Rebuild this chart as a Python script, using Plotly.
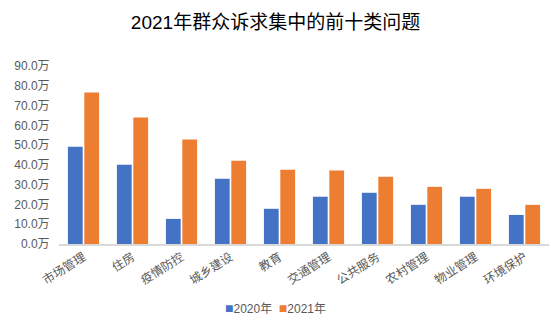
import plotly.graph_objects as go

categories = ["市场管理", "住房", "疫情防控", "城乡建设", "教育",
              "交通管理", "公共服务", "农村管理", "物业管理", "环境保护"]
values_2020 = [49.2, 40.1, 12.7, 33.0, 17.8, 23.9, 25.9, 19.8, 23.9, 14.7]
values_2021 = [76.6, 64.0, 52.8, 42.1, 37.6, 37.1, 34.0, 28.9, 27.9, 19.8]
series_names = ["2020年", "2021年"]
series_colors = ["#4472C4", "#ED7D31"]
y_ticks = [0, 10, 20, 30, 40, 50, 60, 70, 80, 90]
y_tick_labels = [f"{v:.1f}万" for v in y_ticks]

FONT = "Liberation Sans, Arial, Noto Sans CJK SC, sans-serif"
GRAY = "#595959"

W, H = 551, 329
L, R, T, B = 59, 2, 66, 85
plot_w, plot_h = W - L - R, H - T - B

fig = go.Figure()
for name, vals, color in zip(series_names, [values_2020, values_2021], series_colors):
    fig.add_trace(go.Bar(x=categories, y=vals, name=name,
                         marker=dict(color=color, line=dict(width=0))))

# compact legend row under the chart, centred on the page
legend_text = "&nbsp;&nbsp;".join(
    f"<span style='color:{c};font-size:14px'>■</span>{n}"
    for n, c in zip(series_names, series_colors)
)
fig.add_annotation(text=legend_text, showarrow=False,
                   x=(W / 2 - L) / plot_w, xref="paper", xanchor="center",
                   y=-(308 - (H - B)) / plot_h, yref="paper", yanchor="middle",
                   font=dict(family=FONT, size=12, color=GRAY))

fig.update_layout(
    width=W, height=H,
    margin=dict(l=L, r=R, t=T, b=B, autoexpand=False),
    paper_bgcolor="white", plot_bgcolor="white",
    barmode="group", bargap=0.33, bargroupgap=0.1,
    font=dict(family=FONT, size=12, color=GRAY),
    title=dict(text="2021年群众诉求集中的前十类问题",
               x=0.5, xref="container", xanchor="center",
               y=1 - 22 / H, yref="container", yanchor="middle",
               font=dict(family=FONT, size=19, color="black")),
    showlegend=False,
    xaxis=dict(showline=True, linecolor="#D9D9D9", linewidth=1.5,
               tickangle=-32, ticks="", showgrid=False, automargin=False,
               tickfont=dict(size=12, color=GRAY)),
    yaxis=dict(range=[0, 90], tickvals=y_ticks, ticktext=y_tick_labels,
               showgrid=False, zeroline=False, automargin=False,
               showline=False, ticks="outside", ticklen=6,
               tickcolor="rgba(0,0,0,0)",
               tickfont=dict(size=12, color=GRAY)),
)

fig.write_html("out.html")
